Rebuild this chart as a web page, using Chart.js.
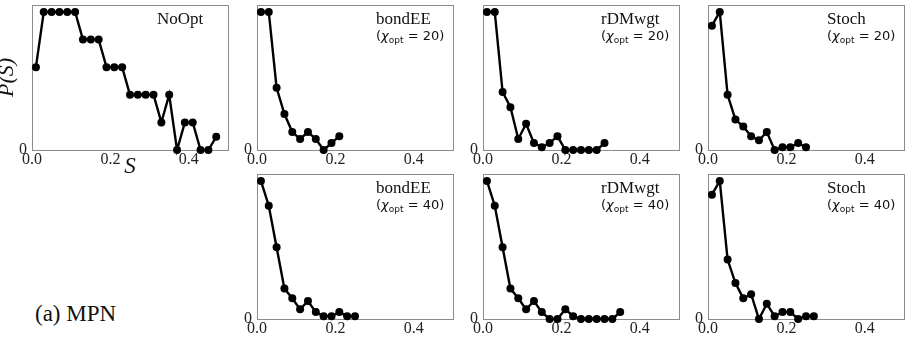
<!DOCTYPE html>
<html>
<head>
<meta charset="utf-8">
<title>P(S) - MPN</title>
<script src="https://cdn.jsdelivr.net/npm/chart.js@4.4.1/dist/chart.umd.min.js"></script>
<style>
  html, body { margin: 0; padding: 0; background: #fff; }
  #wrap { position: relative; width: 915px; height: 341px; overflow: hidden; }
  #wrap canvas { position: absolute; }
  #tag {
    position: absolute; left: 35px; top: 302px;
    font-size: 23px; line-height: 23px; color: #111;
    font-family: "Liberation Serif", Tinos, "Times New Roman", Times, "DejaVu Serif", serif;
  }
</style>
</head>
<body>
<div id="wrap">
  <canvas id="p0"></canvas>
  <canvas id="p1"></canvas>
  <canvas id="p2"></canvas>
  <canvas id="p3"></canvas>
  <canvas id="p4"></canvas>
  <canvas id="p5"></canvas>
  <canvas id="p6"></canvas>
  <div id="tag">(a) MPN</div>
</div>
<script>
// centres of the S bins, shared by all panels
const sCenters = [0.01, 0.03, 0.05, 0.07, 0.09, 0.11, 0.13, 0.15, 0.17, 0.19, 0.21, 0.23,
                  0.25, 0.27, 0.29, 0.31, 0.33, 0.35, 0.37, 0.39, 0.41, 0.43, 0.45, 0.47];
const xTicks = [0, 0.2, 0.4];
const yTicks = [0];

// P(S) (relative heights)
const noOpt    = [3, 5, 5, 5, 5, 5, 4, 4, 4, 3, 3, 3, 2, 2, 2, 2, 1, 2, 0, 1, 1, 0, 0, 0.48];
const bondEE20 = [1, 1, 0.45, 0.26, 0.13, 0.08, 0.13, 0.08, 0, 0.05, 0.1];
const rDMwgt20 = [1, 1, 0.42, 0.31, 0.08, 0.19, 0.05, 0.02, 0.05, 0.1, 0, 0, 0, 0, 0, 0.05];
const stoch20  = [0.9, 1, 0.4, 0.22, 0.17, 0.1, 0.07, 0.13, 0, 0.02, 0.02, 0.05, 0.02];
const bondEE40 = [1, 0.82, 0.52, 0.22, 0.15, 0.07, 0.13, 0.05, 0.02, 0.02, 0.05, 0.02, 0.02];
const rDMwgt40 = [1, 0.82, 0.52, 0.22, 0.15, 0.07, 0.13, 0.05, 0, 0, 0.07, 0.02, 0, 0, 0, 0, 0, 0.05];
const stoch40  = [0.9, 1, 0.43, 0.26, 0.15, 0.18, 0, 0.11, 0.02, 0.05, 0.05, 0, 0.02, 0.02];

// panel layout (plot box position in the page)
const PLOT_W = 196, PLOT_H = 145, AXIS_W = 32, PAD_TOP = 5, PAD_RIGHT = 4;

const panels = [
  { id: 'p0', name: 'NoOpt',  chi: null, values: noOpt,    left: 32,  top: 5,   textX: 125, axisTitles: true },
  { id: 'p1', name: 'bondEE', chi: '20', values: bondEE20, left: 257, top: 5,   textX: 119 },
  { id: 'p2', name: 'rDMwgt', chi: '20', values: rDMwgt20, left: 483, top: 5,   textX: 118 },
  { id: 'p3', name: 'Stoch',  chi: '20', values: stoch20,  left: 708, top: 5,   textX: 119 },
  { id: 'p4', name: 'bondEE', chi: '40', values: bondEE40, left: 257, top: 174, textX: 119 },
  { id: 'p5', name: 'rDMwgt', chi: '40', values: rDMwgt40, left: 483, top: 174, textX: 118 },
  { id: 'p6', name: 'Stoch',  chi: '40', values: stoch40,  left: 708, top: 174, textX: 119 }
];

const SERIF = '"Liberation Serif", Tinos, "Times New Roman", Times, "DejaVu Serif", serif';
const SANS = '"DejaVu Sans", sans-serif';

// grey box round the plot area, under the data
const framePlugin = {
  id: 'frame',
  beforeDatasetsDraw(chart) {
    const { ctx, chartArea: a } = chart;
    ctx.save();
    ctx.strokeStyle = '#8c8c8c';
    ctx.lineWidth = 1;
    ctx.strokeRect(Math.round(a.left) + 0.5, Math.round(a.top) + 0.5,
                   Math.round(a.width), Math.round(a.height));
    ctx.restore();
  }
};

// method name + (chi_opt = N) written inside the plot
const insetPlugin = {
  id: 'inset',
  afterDraw(chart, args, opts) {
    const { ctx, chartArea } = chart;
    const x = chartArea.left + opts.dx;
    ctx.save();
    ctx.fillStyle = '#111';
    ctx.textBaseline = 'alphabetic';
    ctx.textAlign = 'left';
    ctx.font = '17px ' + SERIF;
    ctx.fillText(opts.name, x, chartArea.top + 18.8);
    if (opts.chi) {
      const y = chartArea.top + 35;
      const parts = [
        ['(', '13px ' + SANS, 0],
        ['\u03c7', 'italic 13px ' + SANS, 0],
        ['opt', '9px ' + SANS, 2.5],
        [' = ' + opts.chi + ')', '13px ' + SANS, 0]
      ];
      let cx = x;
      parts.forEach(([t, f, dy]) => {
        ctx.font = f;
        ctx.fillText(t, cx, y + dy);
        cx += ctx.measureText(t).width;
      });
    }
    ctx.restore();
  }
};

function drawPanel(p) {
  const canvas = document.getElementById(p.id);
  const xh = p.axisTitles ? 28 : 20;
  canvas.width = AXIS_W + PLOT_W + PAD_RIGHT;
  canvas.height = PAD_TOP + PLOT_H + xh;
  canvas.style.left = (p.left - AXIS_W) + 'px';
  canvas.style.top = (p.top - PAD_TOP) + 'px';

  const points = p.values.map((v, i) => ({ x: sCenters[i], y: v }));
  const tickFont = { family: SERIF, size: 16 };

  new Chart(canvas, {
    type: 'line',
    data: {
      datasets: [{
        data: points,
        borderColor: '#000',
        backgroundColor: '#000',
        borderWidth: 2.4,
        pointRadius: 4,
        pointBorderWidth: 0,
        pointBackgroundColor: '#000',
        tension: 0,
        clip: false
      }]
    },
    options: {
      responsive: false,
      animation: false,
      devicePixelRatio: 1,
      layout: { padding: { left: 0, top: PAD_TOP, right: PAD_RIGHT, bottom: 0 } },
      plugins: {
        legend: { display: false },
        tooltip: { enabled: false },
        inset: { name: p.name, chi: p.chi, dx: p.textX }
      },
      scales: {
        x: {
          type: 'linear',
          min: 0,
          max: 0.5,
          grid: { display: false, drawTicks: false },
          border: { display: false },
          afterBuildTicks: s => { s.ticks = xTicks.map(v => ({ value: v })); },
          afterFit: s => { s.height = xh; s.paddingLeft = 0; s.paddingRight = 0; },
          ticks: {
            padding: 0, font: tickFont, color: '#222',
            maxRotation: 0, autoSkip: false,
            callback: v => Number(v).toFixed(1)
          },
          title: {
            display: !!p.axisTitles, text: 'S', color: '#111',
            font: { family: SERIF, size: 23, style: 'italic', lineHeight: 1 },
            padding: { top: 0, bottom: 0 }
          }
        },
        y: {
          min: 0,
          max: Math.max(...p.values) * 1.05,
          grid: { display: false, drawTicks: false },
          border: { display: false },
          afterBuildTicks: s => { s.ticks = yTicks.map(v => ({ value: v })); },
          afterFit: s => { s.width = AXIS_W; s.paddingTop = 0; s.paddingBottom = 0; },
          ticks: {
            padding: 5, font: tickFont, color: '#222',
            callback: v => String(v)
          },
          title: {
            display: !!p.axisTitles, text: 'P(S)', color: '#111',
            font: { family: SERIF, size: 22, style: 'italic', lineHeight: 1 },
            padding: { top: -4, bottom: 0 }
          }
        }
      }
    },
    plugins: [framePlugin, insetPlugin]
  });
}

panels.forEach(drawPanel);
</script>
</body>
</html>
